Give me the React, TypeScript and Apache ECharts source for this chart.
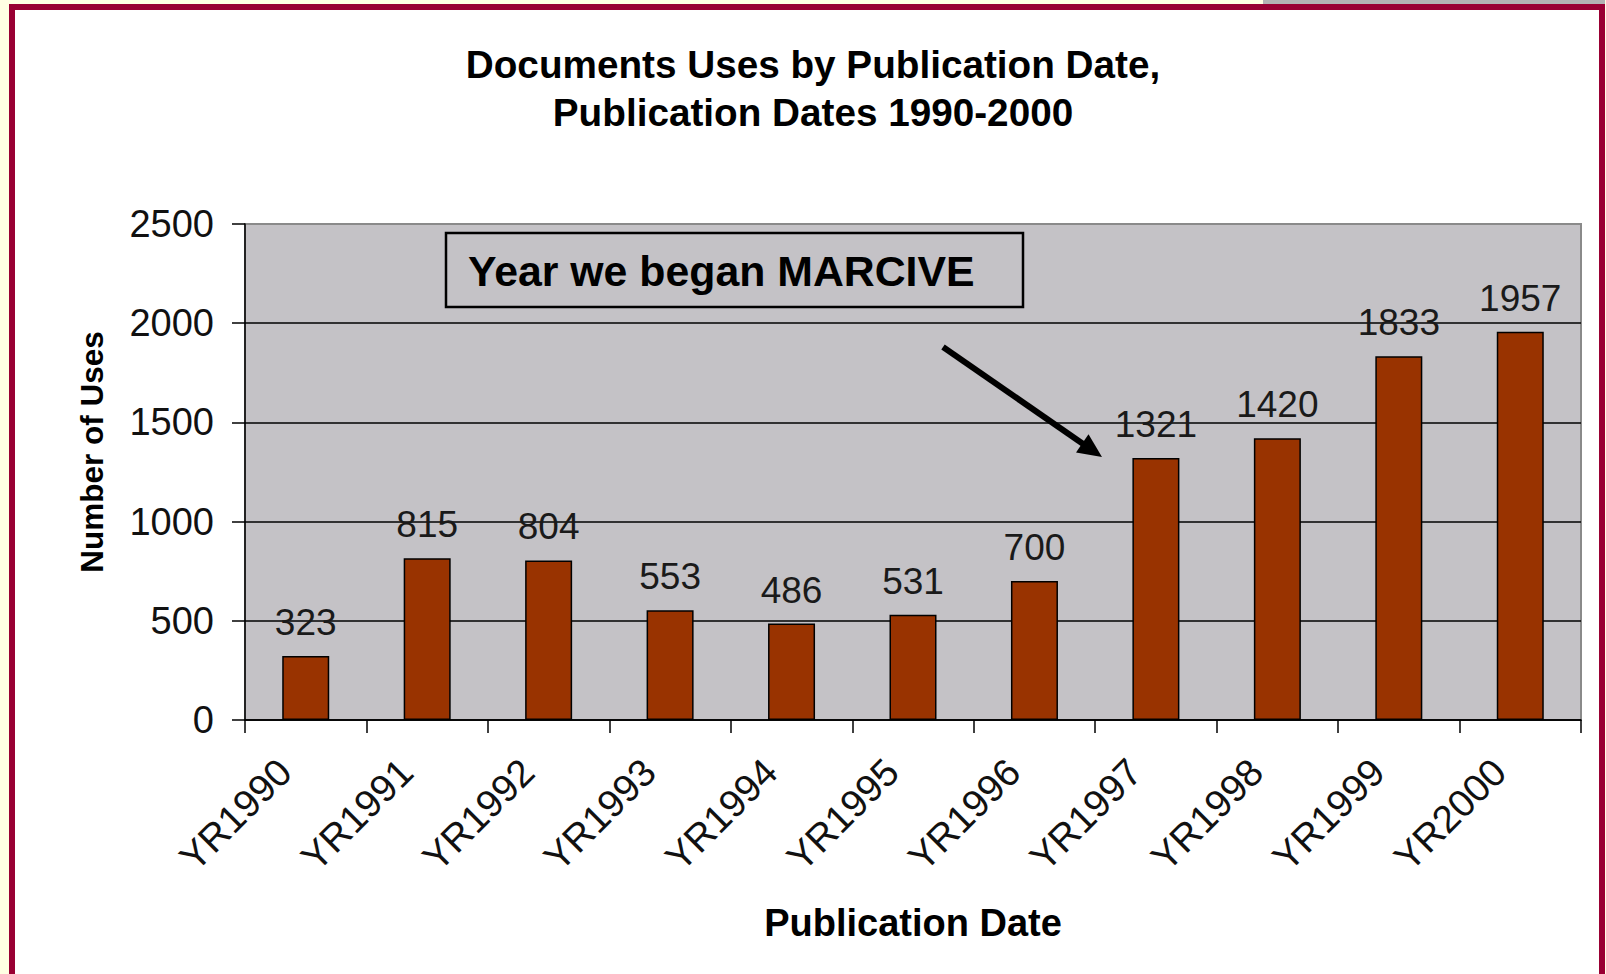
import React, { useEffect, useRef } from 'react';
import * as echarts from 'echarts';

const categories = ['YR1990', 'YR1991', 'YR1992', 'YR1993', 'YR1994', 'YR1995', 'YR1996', 'YR1997', 'YR1998', 'YR1999', 'YR2000'];
const uses = [323, 815, 804, 553, 486, 531, 700, 1321, 1420, 1833, 1957];
const yMin = 0;
const yMax = 2500;
const yInterval = 500;
const titleLines = ['Documents Uses by Publication Date,', 'Publication Dates 1990-2000'];
const xAxisTitle = 'Publication Date';
const yAxisTitle = 'Number of Uses';
const annotationText = 'Year we began MARCIVE';

const FONT = '"Liberation Sans", Arial, Helvetica, sans-serif';

export default function App() {
  const ref = useRef<HTMLDivElement>(null);

  useEffect(() => {
    if (!ref.current) return;
    const chart = echarts.init(ref.current, undefined, { renderer: 'svg' });

    // arrow geometry (annotation)
    const ax0 = 943, ay0 = 347, tipX = 1102, tipY = 457;
    const dx = tipX - ax0, dy = tipY - ay0;
    const len = Math.sqrt(dx * dx + dy * dy);
    const ux = dx / len, uy = dy / len;
    const nx = -uy, ny = ux;
    const headLen = 24, headHalf = 11;
    const bx = tipX - ux * headLen, by = tipY - uy * headLen;

    const option: any = {
      animation: false,
      backgroundColor: '#ffffff',
      title: {
        text: titleLines.join('\n'),
        left: 813,
        top: 40,
        textAlign: 'center',
        padding: 0,
        textStyle: {
          fontFamily: FONT,
          fontSize: 38.7,
          fontWeight: 'bold',
          color: '#000',
          lineHeight: 48,
        },
      },
      grid: {
        left: 245,
        right: 25,
        top: 224,
        bottom: 254,
        show: true,
        backgroundColor: '#C4C2C6',
        borderColor: '#8a8a8a',
        borderWidth: 2,
        containLabel: false,
      },
      xAxis: {
        type: 'category',
        data: categories,
        boundaryGap: true,
        axisLine: { show: true, lineStyle: { color: '#000', width: 1.5 } },
        axisTick: { show: true, length: 13, alignWithLabel: false, interval: 0, lineStyle: { color: '#000', width: 1.5 } },
        axisLabel: {
          interval: 0,
          rotate: 45,
          margin: 24,
          padding: [0, 30, 0, 0],
          fontSize: 38.5,
          fontFamily: FONT,
          color: '#111',
        },
        name: xAxisTitle,
        nameLocation: 'middle',
        nameGap: 184,
        nameTextStyle: { fontFamily: FONT, fontSize: 38, fontWeight: 'bold', color: '#000' },
        splitLine: { show: false },
      },
      yAxis: {
        type: 'value',
        min: yMin,
        max: yMax,
        interval: yInterval,
        axisLine: { show: true, lineStyle: { color: '#000', width: 1.5 } },
        axisTick: { show: true, length: 13, lineStyle: { color: '#000', width: 1.5 } },
        axisLabel: {
          margin: 31,
          fontSize: 38,
          fontFamily: FONT,
          color: '#111',
          formatter: (v: number) => String(v),
        },
        splitLine: { show: true, showMaxLine: false, lineStyle: { color: '#000', width: 1.5 } },
      },
      series: [
        {
          type: 'bar',
          data: uses,
          barWidth: 47,
          itemStyle: { color: '#993300', borderColor: '#000', borderWidth: 1.5 },
          label: {
            show: true,
            position: 'top',
            distance: 15,
            fontSize: 37,
            fontFamily: FONT,
            color: '#1a1a1a',
          },
        },
      ],
      graphic: [
        { type: 'rect', shape: { x: 0, y: 0, width: 9, height: 974 }, style: { fill: '#FFFFE3' }, silent: true },
        { type: 'rect', shape: { x: 0, y: 0, width: 1263, height: 4 }, style: { fill: '#FFFFE3' }, silent: true },
        { type: 'rect', shape: { x: 1263, y: 0, width: 343, height: 4 }, style: { fill: '#B3B3B3' }, silent: true },
        { type: 'rect', shape: { x: 1605, y: 0, width: 1, height: 974 }, style: { fill: '#FFFFE3' }, silent: true },
        {
          type: 'rect',
          shape: { x: 12, y: 7, width: 1590, height: 1000 },
          style: { fill: 'none', stroke: '#990033', lineWidth: 6 },
          silent: true,
        },
        {
          type: 'text',
          x: 92,
          y: 452,
          rotation: Math.PI / 2,
          style: {
            text: yAxisTitle,
            fontFamily: FONT,
            fontSize: 31.5,
            fontWeight: 'bold',
            fill: '#000',
            align: 'center',
            verticalAlign: 'middle',
          },
        },
        {
          type: 'rect',
          z: 100,
          shape: { x: 446, y: 233, width: 577, height: 74 },
          style: { fill: 'none', stroke: '#000', lineWidth: 2.5 },
        },
        {
          type: 'text',
          z: 101,
          x: 468,
          y: 271,
          style: {
            text: annotationText,
            fontFamily: FONT,
            fontSize: 42.8,
            fontWeight: 'bold',
            fill: '#000',
            align: 'left',
            verticalAlign: 'middle',
          },
        },
        {
          type: 'line',
          z: 100,
          shape: { x1: ax0, y1: ay0, x2: bx + ux * 2, y2: by + uy * 2 },
          style: { stroke: '#000', lineWidth: 6 },
        },
        {
          type: 'polygon',
          z: 100,
          shape: {
            points: [
              [tipX, tipY],
              [bx + nx * headHalf, by + ny * headHalf],
              [bx - nx * headHalf, by - ny * headHalf],
            ],
          },
          style: { fill: '#000' },
        },
      ],
    };

    chart.setOption(option);
    return () => {
      chart.dispose();
    };
  }, []);

  return (
    <div
      ref={ref}
      style={{ position: 'fixed', left: 0, top: 0, width: 1606, height: 974 }}
    />
  );
}
